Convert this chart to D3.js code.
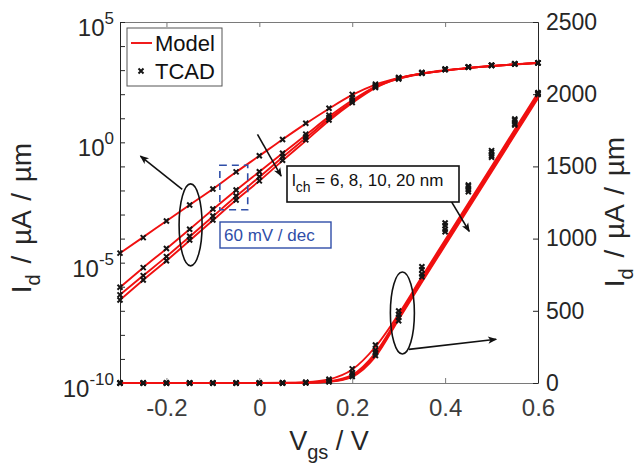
<!DOCTYPE html>
<html>
<head>
<meta charset="utf-8">
<script src="https://cdn.jsdelivr.net/npm/d3@7"></script>
<style>
  body { margin: 0; background: #fff; }
  text { font-family: "Liberation Sans", Arial, Helvetica, sans-serif; }
</style>
</head>
<body>
<svg id="chart" width="640" height="470"></svg>
<script>
// Gate voltage sweep (V)
const vgs = [-0.3, -0.25, -0.2, -0.15, -0.1, -0.05, 0, 0.05, 0.1, 0.15,
             0.2, 0.25, 0.3, 0.35, 0.4, 0.45, 0.5, 0.55, 0.6];

// Channel lengths (nm)
const channelLengths = [6, 8, 10, 20];

// Compact-model drain current, uA/um
const model6  = [2.5e-5, 1.15e-4, 5.4e-4, 2.5e-3, 1.15e-2, 5.8e-2, 0.275, 1.32, 6.0, 25,
                 93, 251, 478, 735, 990, 1245, 1500, 1755, 2010];
const model8  = [9.5e-7, 6.2e-6, 3.8e-5, 2.45e-4, 1.62e-3, 1.02e-2, 6.0e-2, 0.35, 2.0, 11.7,
                 56, 209, 462, 720, 975, 1230, 1485, 1740, 1995];
const model10 = [4.6e-7, 2.9e-6, 1.78e-5, 1.2e-4, 8.3e-4, 5.75e-3, 3.6e-2, 0.24, 1.5, 9.5,
                 48, 195, 450, 707, 962, 1217, 1472, 1727, 1983];
const model20 = [2.8e-7, 1.9e-6, 1.2e-5, 8.3e-5, 5.75e-4, 4.0e-3, 2.5e-2, 0.174, 1.15, 7.9,
                 43, 182, 440, 697, 952, 1207, 1462, 1717, 1972];

// TCAD simulated drain current, uA/um
const tcad6  = [2.5e-5, 1.1e-4, 5.4e-4, 2.5e-3, 1.15e-2, 5.9e-2, 0.275, 1.32, 6.2, 26,
                98, 263, 499, 805, 1108, 1371, 1609, 1828, 2010];
const tcad8  = [9.5e-7, 6.2e-6, 3.9e-5, 2.45e-4, 1.7e-3, 1.05e-2, 6.0e-2, 0.35, 2.2, 13.5,
                71, 229, 475, 785, 1090, 1360, 1598, 1818, 2008];
const tcad10 = [4.6e-7, 2.9e-6, 1.78e-5, 1.26e-4, 8.7e-4, 5.9e-3, 3.7e-2, 0.25, 1.66, 10.7,
                56, 209, 455, 755, 1065, 1340, 1575, 1798, 2003];
const tcad20 = [2.8e-7, 1.9e-6, 1.2e-5, 8.7e-5, 5.9e-4, 4.0e-3, 2.5e-2, 0.18, 1.26, 8.5,
                45, 190, 431, 736, 1048, 1325, 1563, 1787, 1998];

// Axis ticks
const xTicks = [-0.2, 0, 0.2, 0.4, 0.6];
const leftDecades = [-10, -9, -8, -7, -6, -5, -4, -3, -2, -1, 0, 1, 2, 3, 4, 5];
const leftLabelExps = [-10, -5, 0, 5];
const rightTicks = [0, 500, 1000, 1500, 2000, 2500];

const modelSeries = [model6, model8, model10, model20];
const tcadSeries = [tcad6, tcad8, tcad10, tcad20];

const svg = d3.select("#chart");
const L = 120, R = 538, T = 22, B = 383;

const x = d3.scaleLinear().domain([-0.3, 0.6]).range([L, R]);
const yLog = d3.scaleLog().domain([1e-10, 1e5]).range([B, T]);
const yLin = d3.scaleLinear().domain([0, 2500]).range([B, T]);

const RED = "#f01010";
const AXIS = "#262626";
const BLUE = "#2f4ea8";

// arrowhead
svg.append("defs").append("marker")
  .attr("id", "arrow").attr("viewBox", "0 0 10 10")
  .attr("refX", 9).attr("refY", 5)
  .attr("markerUnits", "userSpaceOnUse")
  .attr("markerWidth", 11).attr("markerHeight", 9)
  .attr("orient", "auto")
  .append("path").attr("d", "M0,1 L10,5 L0,9 L2.5,5 Z").attr("fill", "#111");

// ---- axes frame ----
const gx = svg.append("g").attr("transform", `translate(0,${B})`)
  .call(d3.axisBottom(x).tickValues(xTicks).tickSizeInner(-5).tickSizeOuter(0)
    .tickPadding(16).tickFormat(d => d === 0 ? "0" : d.toFixed(1)));
gx.select(".domain").attr("stroke", "#7a7a7a");
gx.selectAll(".tick line").attr("stroke", "#7a7a7a");
gx.selectAll("text").attr("font-size", 24).attr("fill", "#3c3c3c");

const gTop = svg.append("g").attr("transform", `translate(0,${T})`)
  .call(d3.axisTop(x).tickValues(xTicks).tickSizeInner(-5).tickSizeOuter(0).tickFormat(""));
gTop.select(".domain").attr("stroke", "#7a7a7a");
gTop.selectAll(".tick line").attr("stroke", "#7a7a7a");

const gl = svg.append("g").attr("transform", `translate(${L},0)`)
  .call(d3.axisLeft(yLog).tickValues(leftDecades.map(e => Math.pow(10, e)))
    .tickSizeInner(-5).tickSizeOuter(0).tickFormat(""));
gl.select(".domain").attr("stroke", AXIS);
gl.selectAll(".tick line").attr("stroke", AXIS);

leftLabelExps.forEach(e => {
  const t = svg.append("text").attr("x", L - 6).attr("y", yLog(Math.pow(10, e)) + 14)
    .attr("text-anchor", "end").attr("fill", AXIS).attr("font-size", 24);
  t.append("tspan").text("10");
  t.append("tspan").attr("dy", -12).attr("font-size", 17).text(String(e));
});

const gr = svg.append("g").attr("transform", `translate(${R},0)`)
  .call(d3.axisRight(yLin).tickValues(rightTicks).tickSizeInner(-5).tickSizeOuter(0)
    .tickPadding(8).tickFormat(d3.format("d")));
gr.select(".domain").attr("stroke", AXIS);
gr.selectAll(".tick line").attr("stroke", AXIS);
gr.selectAll("text").attr("font-size", 23).attr("fill", AXIS);

// axis titles
const xt = svg.append("text").attr("x", (L + R) / 2).attr("y", 450)
  .attr("text-anchor", "middle").attr("font-size", 27).attr("fill", AXIS);
xt.append("tspan").text("V");
xt.append("tspan").attr("dy", 9).attr("font-size", 20).text("gs");
xt.append("tspan").attr("dy", -9).text(" / V");

function yTitle(cx, cy) {
  const t = svg.append("text")
    .attr("transform", `translate(${cx},${cy}) rotate(-90)`)
    .attr("text-anchor", "middle").attr("font-size", 28).attr("fill", AXIS)
    .attr("word-spacing", 3);
  t.append("tspan").text("I");
  t.append("tspan").attr("dy", 9).attr("font-size", 20).text("d");
  t.append("tspan").attr("dy", -9).text(" / \u00b5A / \u00b5m");
}
yTitle(31, 218);
yTitle(624, 212);

// ---- curves ----
const logLine = d3.line().x((d, i) => x(vgs[i])).y(d => yLog(d)).curve(d3.curveMonotoneX);
const linLine = d3.line().x((d, i) => x(vgs[i])).y(d => yLin(d)).curve(d3.curveMonotoneX);

const gCurves = svg.append("g");
modelSeries.forEach(s => {
  gCurves.append("path").attr("d", logLine(s)).attr("fill", "none")
    .attr("stroke", RED).attr("stroke-width", 1.9);
  gCurves.append("path").attr("d", linLine(s)).attr("fill", "none")
    .attr("stroke", RED).attr("stroke-width", 1.9);
});

// TCAD markers ('x')
const mk = 2.5;
const gMarks = svg.append("g").attr("stroke", "#151515").attr("stroke-width", 2);
function cross(g, cx, cy) {
  g.append("path").attr("d",
    `M${cx - mk},${cy - mk}L${cx + mk},${cy + mk}M${cx - mk},${cy + mk}L${cx + mk},${cy - mk}`);
}
tcadSeries.forEach(s => {
  s.forEach((v, i) => {
    cross(gMarks, x(vgs[i]), yLog(v));
    cross(gMarks, x(vgs[i]), yLin(v));
  });
});

// ---- annotations ----
const ann = svg.append("g").attr("fill", "none").attr("stroke", "#111").attr("stroke-width", 1.6);

// subthreshold group
ann.append("ellipse").attr("cx", x(-0.148)).attr("cy", yLog(Math.pow(10, -3.43)))
  .attr("rx", 11.5).attr("ry", 41);
ann.append("line")
  .attr("x1", x(-0.166)).attr("y1", yLog(Math.pow(10, -1.95)))
  .attr("x2", x(-0.256)).attr("y2", yLog(Math.pow(10, -0.57)))
  .attr("marker-end", "url(#arrow)");

// channel-length trend arrows
ann.append("line")
  .attr("x1", x(-0.004)).attr("y1", yLog(Math.pow(10, 0.33)))
  .attr("x2", x(0.047)).attr("y2", yLog(Math.pow(10, -1.4)))
  .attr("marker-end", "url(#arrow)");
ann.append("line")
  .attr("x1", x(0.411)).attr("y1", yLin(1270))
  .attr("x2", x(0.452)).attr("y2", yLin(1050))
  .attr("marker-end", "url(#arrow)");

// on-state group
ann.append("ellipse").attr("cx", x(0.308)).attr("cy", yLin(485))
  .attr("rx", 12).attr("ry", 41);
ann.append("line")
  .attr("x1", x(0.322)).attr("y1", yLin(233))
  .attr("x2", x(0.51)).attr("y2", yLin(303))
  .attr("marker-end", "url(#arrow)");

// label box for channel lengths
svg.append("rect").attr("x", 287).attr("y", 166).attr("width", 172).attr("height", 36)
  .attr("fill", "#fff").attr("stroke", "#111").attr("stroke-width", 1.6);
const lt = svg.append("text").attr("x", 292).attr("y", 186).attr("font-size", 17).attr("fill", "#111");
lt.append("tspan").text("l");
lt.append("tspan").attr("dy", 6).attr("font-size", 14).text("ch");
lt.append("tspan").attr("dy", -6).text(" = 6, 8, 10, 20 nm");

// 60 mV/dec slope box
svg.append("rect")
  .attr("x", x(-0.085)).attr("y", yLog(Math.pow(10, -0.95)))
  .attr("width", x(-0.025) - x(-0.085))
  .attr("height", yLog(Math.pow(10, -2.8)) - yLog(Math.pow(10, -0.95)))
  .attr("fill", "none").attr("stroke", BLUE).attr("stroke-width", 1.6)
  .attr("stroke-dasharray", "7,5");
svg.append("rect").attr("x", 220).attr("y", 222).attr("width", 111).attr("height", 26)
  .attr("fill", "#fff").attr("stroke", BLUE).attr("stroke-width", 1.4);
svg.append("text").attr("x", 224).attr("y", 241).attr("font-size", 17).attr("fill", BLUE)
  .text("60 mV / dec");

// ---- legend ----
const lg = svg.append("g");
lg.append("rect").attr("x", 127).attr("y", 28).attr("width", 95).attr("height", 58)
  .attr("fill", "#fff").attr("stroke", "#555").attr("stroke-width", 1);
lg.append("line").attr("x1", 131).attr("x2", 152).attr("y1", 43).attr("y2", 43)
  .attr("stroke", RED).attr("stroke-width", 1.9);
lg.append("text").attr("x", 155).attr("y", 51).attr("font-size", 22).attr("fill", "#111").text("Model");
const lgm = lg.append("g").attr("stroke", "#151515").attr("stroke-width", 2);
cross(lgm, 141, 71);
lg.append("text").attr("x", 155).attr("y", 79).attr("font-size", 22).attr("fill", "#111").text("TCAD");
</script>
</body>
</html>
